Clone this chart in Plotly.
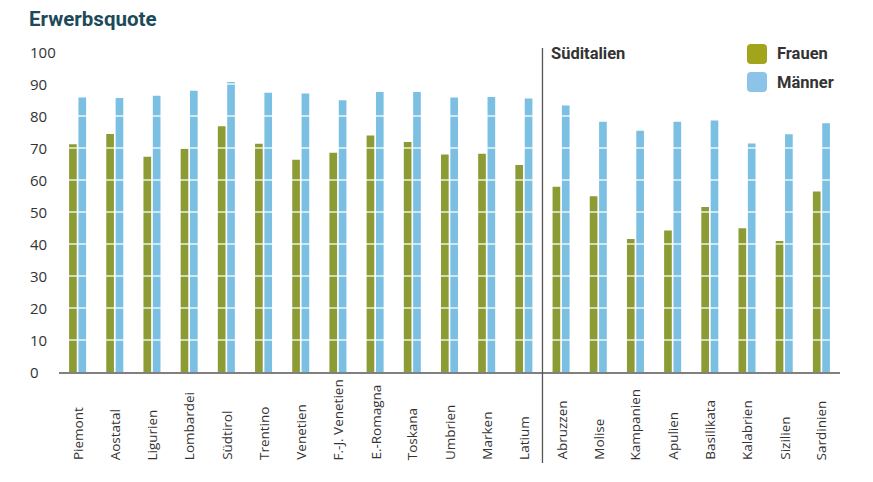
import plotly.graph_objects as go

regions = ["Piemont", "Aostatal", "Ligurien", "Lombardei", "Südtirol", "Trentino",
           "Venetien", "F.-J. Venetien", "E.-Romagna", "Toskana", "Umbrien", "Marken",
           "Latium", "Abruzzen", "Molise", "Kampanien", "Apulien", "Basilikata",
           "Kalabrien", "Sizilien", "Sardinien"]
frauen = [71.2, 74.4, 67.3, 69.8, 76.8, 71.3, 66.3, 68.5, 73.9, 71.9, 68.0, 68.2,
          64.7, 57.9, 54.9, 41.6, 44.2, 51.6, 44.9, 40.9, 56.4]
maenner = [85.8, 85.6, 86.3, 87.9, 90.6, 87.3, 87.0, 84.9, 87.5, 87.5, 85.8, 85.9,
           85.5, 83.3, 78.2, 75.4, 78.2, 78.6, 71.4, 74.3, 77.7]
series_names = ["Frauen", "Männer"]
y_ticks = [0, 10, 20, 30, 40, 50, 60, 70, 80, 90, 100]
title_text = "Erwerbsquote"
south_label = "Süditalien"
south_start = "Abruzzen"

# page body has an 8px margin; the figure is placed accordingly
OFF = 8
W, H = 873 - OFF, 482 - OFF
ML, MR, MT, MB = 59 - OFF, 33, 52 - OFF, 110
PW, PH = W - ML - MR, H - MT - MB

def px_x(px):
    return (px - OFF - ML) / PW

def px_y(py):
    return (H - MB - (py - OFF)) / PH

GREEN = "#8c9b33"
BLUE = "#7bc0e3"
GREEN_LEG = "#a2a51c"
BLUE_LEG = "#8cc3e8"
TEXT = "#333333"

fig = go.Figure()
fig.add_trace(go.Bar(x=regions, y=frauen, name=series_names[0], marker_color=GREEN,
                     marker_line_width=0, showlegend=False))
fig.add_trace(go.Bar(x=regions, y=maenner, name=series_names[1], marker_color=BLUE,
                     marker_line_width=0, showlegend=False))

shapes = []
# white grid lines drawn over the bars
for t in y_ticks[1:-1]:
    shapes.append(dict(type="line", xref="paper", yref="y", x0=0, x1=1, y0=t, y1=t,
                       line=dict(color="rgba(255,255,255,0.85)", width=1.5), layer="above"))

# separator between north/centre and south
sep = regions.index(south_start) - 0.5
shapes.append(dict(type="line", xref="x", yref="paper", x0=sep, x1=sep,
                   y0=px_y(463), y1=px_y(48), line=dict(color="#555555", width=1.3),
                   layer="above"))

annotations = []
# title
annotations.append(dict(text="<b>" + title_text + "</b>", xref="paper", yref="paper",
                        x=px_x(27), y=px_y(19), xanchor="left", yanchor="middle",
                        showarrow=False,
                        font=dict(family="Roboto", size=20.5, color="#1c4a5a")))
# y tick labels (left aligned)
for t in y_ticks:
    annotations.append(dict(text=str(t), xref="paper", yref="y", x=px_x(28), y=t,
                            xanchor="left", yanchor="middle", showarrow=False,
                            font=dict(family="Open Sans", size=15, color=TEXT)))
# x category labels, rotated, bottom aligned
for r in regions:
    annotations.append(dict(text=r, xref="x", yref="y", x=r, y=0, yshift=-90,
                            textangle=-90, xanchor="center", yanchor="bottom",
                            showarrow=False,
                            font=dict(family="Open Sans", size=13.5, color=TEXT)))
# south label
annotations.append(dict(text="<b>" + south_label + "</b>", xref="x", yref="paper",
                        x=sep, xshift=7, y=px_y(53), xanchor="left", yanchor="middle",
                        showarrow=False,
                        font=dict(family="Roboto", size=16.5, color=TEXT)))


def rounded_rect(x0p, y0p, x1p, y1p, r):
    # pixel coordinates -> paper path with rounded corners
    pts = []
    X = lambda v: px_x(v)
    Y = lambda v: px_y(v)
    d = (f"M {X(x0p + r)} {Y(y0p)} L {X(x1p - r)} {Y(y0p)} "
         f"Q {X(x1p)} {Y(y0p)} {X(x1p)} {Y(y0p + r)} "
         f"L {X(x1p)} {Y(y1p - r)} Q {X(x1p)} {Y(y1p)} {X(x1p - r)} {Y(y1p)} "
         f"L {X(x0p + r)} {Y(y1p)} Q {X(x0p)} {Y(y1p)} {X(x0p)} {Y(y1p - r)} "
         f"L {X(x0p)} {Y(y0p + r)} Q {X(x0p)} {Y(y0p)} {X(x0p + r)} {Y(y0p)} Z")
    return d


# legend
leg = [(series_names[0], GREEN_LEG, 54), (series_names[1], BLUE_LEG, 82)]
for name, col, cy in leg:
    shapes.append(dict(type="path", xref="paper", yref="paper",
                       path=rounded_rect(747, cy - 10, 767, cy + 10, 4),
                       fillcolor=col, line=dict(width=0), layer="above"))
    annotations.append(dict(text="<b>" + name + "</b>", xref="paper", yref="paper",
                            x=px_x(775), y=px_y(cy), xanchor="left", yanchor="middle",
                            showarrow=False,
                            font=dict(family="Roboto", size=16.5, color=TEXT)))

fig.update_layout(
    width=W, height=H,
    margin=dict(l=ML, r=MR, t=MT, b=MB, pad=0),
    paper_bgcolor="white", plot_bgcolor="white",
    barmode="group", bargap=0.497, bargroupgap=0.18,
    shapes=shapes, annotations=annotations,
    xaxis=dict(showticklabels=False, ticks="", showgrid=False, zeroline=False,
               showline=True, linecolor="#808080", linewidth=1.5,
               range=[-0.5, len(regions) - 0.5]),
    yaxis=dict(range=[0, 100], showticklabels=False, ticks="", showgrid=False,
               zeroline=False, showline=False),
)
fig.write_html("out.html")
